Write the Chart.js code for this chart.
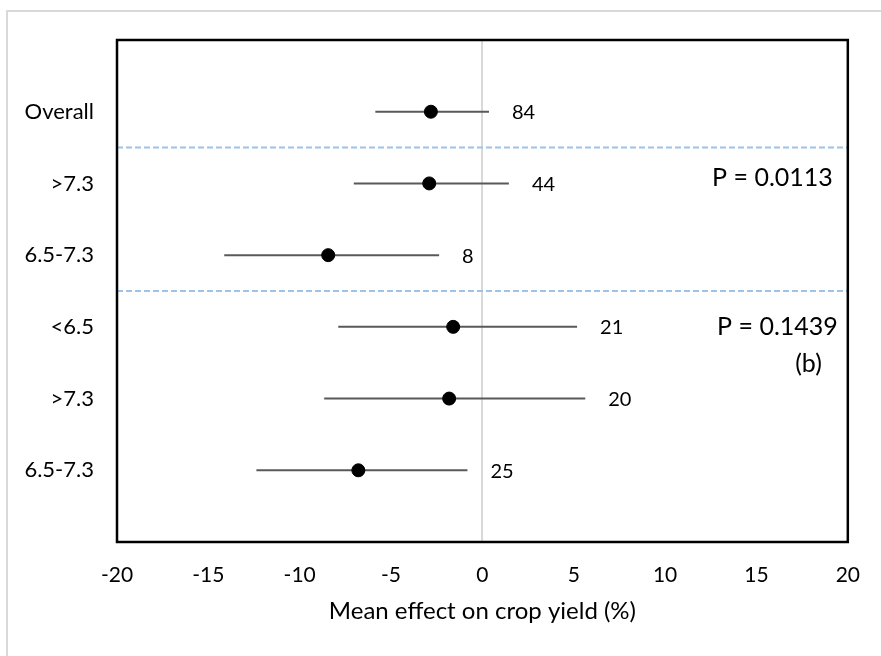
<!DOCTYPE html>
<html>
<head>
<meta charset="utf-8">
<script src="https://cdn.jsdelivr.net/npm/chart.js@4/dist/chart.umd.min.js"></script>
<style>
  body { margin: 0; background: #fff; }
  #wrap { width: 881px; height: 656px; }
</style>
</head>
<body>
<div id="wrap"><canvas id="forest" width="881" height="656"></canvas></div>
<script>
// rows, top to bottom
const categories = ['Overall', '>7.3', '6.5-7.3', '<6.5', '>7.3', '6.5-7.3'];
const means = [-2.82, -2.91, -8.44, -1.60, -1.82, -6.79];
const lower = [-5.86, -7.04, -14.13, -7.89, -8.66, -12.37];
const upper = [0.36, 1.45, -2.37, 5.18, 5.63, -0.82];
const counts = [84, 44, 8, 21, 20, 25];
const xTicks = [-20, -15, -10, -5, 0, 5, 10, 15, 20];
const separators = [1.5, 3.5];
const pTexts = ['P = 0.0113', 'P = 0.1439', '(b)'];

const FONT = 'Lato, "Open Sans", sans-serif';

const points = means.map((m, i) => ({ x: m, y: i + 1 }));

const forestPlugin = {
  id: 'forest',
  beforeDraw(chart) {
    const ctx = chart.ctx;
    // light outer frame
    ctx.save();
    ctx.strokeStyle = '#d9d9d9';
    ctx.lineWidth = 2;
    ctx.beginPath();
    ctx.moveTo(7, chart.height);
    ctx.lineTo(7, 11);
    ctx.lineTo(chart.width, 11);
    ctx.stroke();
    ctx.restore();
  },
  beforeDatasetsDraw(chart) {
    const { ctx, chartArea } = chart;
    const xs = chart.scales.x, ys = chart.scales.y;
    ctx.save();
    // group separators
    ctx.strokeStyle = '#9dc3e6';
    ctx.lineWidth = 2;
    ctx.setLineDash([6, 3]);
    separators.forEach(v => {
      const y = ys.getPixelForValue(v);
      ctx.beginPath();
      ctx.moveTo(chartArea.left, y);
      ctx.lineTo(chartArea.right, y);
      ctx.stroke();
    });
    ctx.setLineDash([]);
    // error bars
    ctx.strokeStyle = '#595959';
    ctx.lineWidth = 2;
    lower.forEach((lo, i) => {
      const y = ys.getPixelForValue(i + 1);
      ctx.beginPath();
      ctx.moveTo(xs.getPixelForValue(lo), y);
      ctx.lineTo(xs.getPixelForValue(upper[i]), y);
      ctx.stroke();
    });
    ctx.restore();
  },
  afterDraw(chart) {
    const { ctx, chartArea } = chart;
    const xs = chart.scales.x, ys = chart.scales.y;
    ctx.save();
    // plot box
    ctx.strokeStyle = '#000';
    ctx.lineWidth = 2.5;
    ctx.strokeRect(chartArea.left, chartArea.top, chartArea.right - chartArea.left, chartArea.bottom - chartArea.top);
    // n labels
    ctx.fillStyle = '#000';
    ctx.font = '20px ' + FONT;
    ctx.textAlign = 'left';
    ctx.textBaseline = 'middle';
    counts.forEach((n, i) => {
      ctx.fillText(String(n), xs.getPixelForValue(upper[i]) + 23, ys.getPixelForValue(i + 1) + 1);
    });
    // p values
    ctx.font = '25px ' + FONT;
    ctx.textAlign = 'right';
    ctx.fillText(pTexts[0], chartArea.right - 15, ys.getPixelForValue(1.93));
    ctx.fillText(pTexts[1], chartArea.right - 10, ys.getPixelForValue(4));
    ctx.fillText(pTexts[2], chartArea.right - 26, ys.getPixelForValue(4.52));
    ctx.restore();
  }
};

new Chart(document.getElementById('forest'), {
  type: 'scatter',
  data: {
    datasets: [{
      data: points,
      backgroundColor: '#000',
      borderColor: '#000',
      pointRadius: 6.5,
      pointHoverRadius: 6.5
    }]
  },
  options: {
    responsive: false,
    animation: false,
    layout: { padding: { top: 40, right: 31, left: 0, bottom: 0 } },
    plugins: { legend: { display: false }, tooltip: { enabled: false } },
    scales: {
      x: {
        type: 'linear',
        min: -20,
        max: 20,
        afterBuildTicks: s => { s.ticks = xTicks.map(v => ({ value: v })); },
        afterFit: s => { s.height = 114; },
        border: { display: false },
        grid: {
          drawTicks: false,
          color: c => (c.tick && c.tick.value === 0 ? '#d9d9d9' : 'rgba(0,0,0,0)'),
          lineWidth: 2
        },
        ticks: { color: '#000', padding: 21, font: { family: FONT, size: 21 } },
        title: {
          display: true,
          text: 'Mean effect on crop yield (%)',
          color: '#000',
          font: { family: FONT, size: 24 },
          padding: { top: 0, bottom: 30 }
        }
      },
      y: {
        type: 'linear',
        min: 0,
        max: 7,
        reverse: true,
        afterBuildTicks: s => { s.ticks = categories.map((c, i) => ({ value: i + 1 })); },
        afterFit: s => { s.width = 117; },
        border: { display: false },
        grid: { display: false, drawTicks: false },
        ticks: {
          color: '#000',
          padding: 23,
          font: { family: FONT, size: 22 },
          callback: v => categories[v - 1] || ''
        }
      }
    }
  },
  plugins: [forestPlugin]
});
</script>
</body>
</html>
